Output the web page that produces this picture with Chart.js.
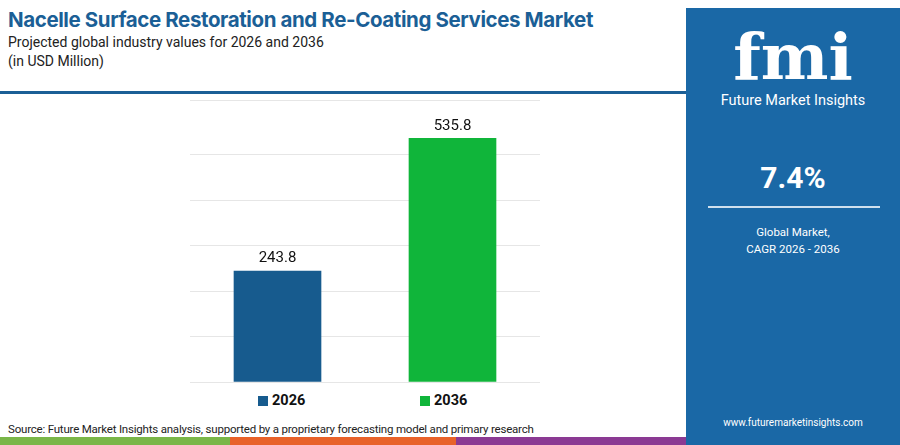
<!DOCTYPE html>
<html><head><meta charset="utf-8">
<script src="https://cdn.jsdelivr.net/npm/chart.js@4"></script>
<style>
body{margin:0;width:900px;height:445px;position:relative;background:#fff;font-family:Roboto,"Open Sans",sans-serif;overflow:hidden}
#t1{position:absolute;left:8px;top:7px;font-size:20.5px;font-weight:700;color:#1b5f96;font-family:Inter,Roboto,sans-serif;letter-spacing:-0.4px}
#t2{position:absolute;left:8px;top:33px;font-size:14px;color:#222;line-height:19px}
#hl{position:absolute;left:0;top:91px;width:686px;height:3px;background:#1b5f96}
#panel{position:absolute;left:686px;top:8px;width:214px;height:437px;background:#1a68a6;color:#fff;text-align:center}
#logo{position:absolute;top:14px;width:100%;font-size:64px;font-weight:900;font-family:"DejaVu Serif",serif;line-height:70px}
#fmi{position:absolute;top:84px;width:100%;font-size:14.5px}
#cagr{position:absolute;top:152px;width:100%;font-size:30px;font-weight:700}
#pl{position:absolute;top:198px;left:22px;width:172px;height:2px;background:#cfe0ee}
#gm{position:absolute;top:216px;width:100%;font-size:11.5px;line-height:17px}
#url{position:absolute;top:409px;width:100%;font-size:10px}
#cv{position:absolute;left:0;top:100px;width:686px;height:290px}
.lg{position:absolute;top:392px;font-size:14.5px;font-weight:700;color:#111;display:flex;align-items:center}
.lg i{display:inline-block;width:10px;height:10px;margin-right:4px}
#src{position:absolute;left:8px;top:422px;font-size:11.5px;color:#222;letter-spacing:-0.2px}
.st{position:absolute;top:437px;height:8px}
</style></head><body>
<div id="t1">Nacelle Surface Restoration and Re-Coating Services Market</div>
<div id="t2">Projected global industry values for 2026 and 2036<br>(in USD Million)</div>
<div id="hl"></div>
<div id="cv"><canvas id="c"></canvas></div>
<div id="lg"></div>
<div id="src">Source: Future Market Insights analysis, supported by a proprietary forecasting model and primary research</div>
<div class="st" style="left:0;width:230px;background:#7ab648"></div>
<div class="st" style="left:230px;width:226px;background:#e8622a"></div>
<div class="st" style="left:456px;width:230px;background:#8b3a93"></div>
<div id="panel">
<div id="logo">fmi</div>
<div id="fmi">Future Market Insights</div>
<div id="cagr">7.4%</div>
<div id="pl"></div>
<div id="gm">Global Market,<br>CAGR 2026 - 2036</div>
<div id="url">www.futuremarketinsights.com</div>
</div>
<script>
const categories=["2026","2036"];
const values=[243.8,535.8];
const colors=["#175b8e","#10b53a"];
const legendX=[258,420];
const lg=document.getElementById('lg');
categories.forEach((c,i)=>{const d=document.createElement('div');d.className='lg';d.style.left=legendX[i]+'px';d.innerHTML='<i style="background:'+colors[i]+'"></i>'+c;lg.appendChild(d);});
const labelPlugin={id:'lbl',afterDatasetsDraw(ch){const ctx=ch.ctx;ch.getDatasetMeta(0).data.forEach((b,i)=>{ctx.save();ctx.font='15px Roboto, sans-serif';ctx.fillStyle='#111';ctx.textAlign='center';ctx.textBaseline='bottom';ctx.fillText(values[i].toFixed(1),b.x,b.y-5);ctx.restore();});}};
new Chart(document.getElementById('c'),{type:'bar',
data:{labels:categories,datasets:[{data:values,backgroundColor:colors,barThickness:87}]},
options:{responsive:true,maintainAspectRatio:false,animation:false,
layout:{padding:{left:190,right:146,top:0,bottom:0}},
plugins:{legend:{display:false},tooltip:{enabled:false}},
scales:{x:{grid:{display:false},border:{display:false},ticks:{display:false}},
y:{min:0,max:620,ticks:{display:false,stepSize:100},grid:{color:'#e6e6e6',drawTicks:false},border:{display:false}}}},
plugins:[labelPlugin]});
</script></body></html>
